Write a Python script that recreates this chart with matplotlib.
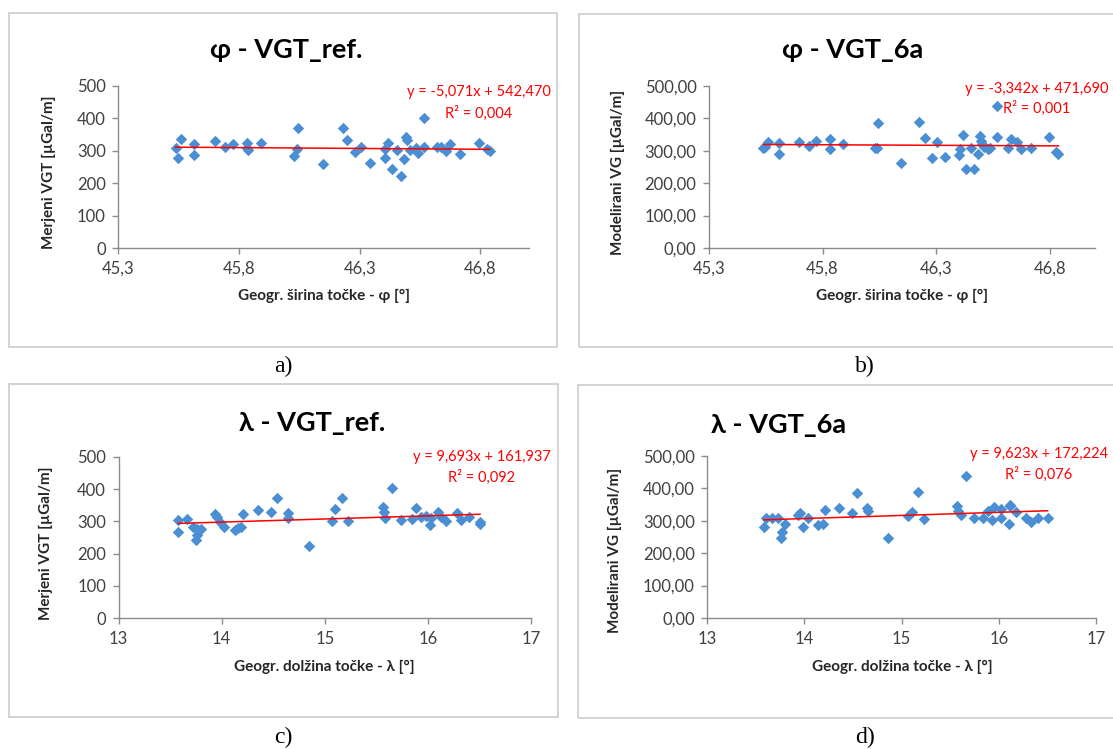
import matplotlib
matplotlib.use("Agg")
import matplotlib.pyplot as plt
import numpy as np
from matplotlib.patches import Rectangle
from matplotlib.ticker import FuncFormatter

plt.rcParams["font.family"] = ["Lato", "DejaVu Sans"]

# a) geogr. sirina - izmerjeni VGT
phi_ref = [45.537, 45.548, 45.558, 45.613, 45.613, 45.701, 45.741, 45.777, 45.835, 45.835,
           45.838, 45.893, 46.030, 46.040, 46.044, 46.147, 46.230, 46.248, 46.282, 46.306,
           46.344, 46.405, 46.405, 46.419, 46.434, 46.455, 46.471, 46.485, 46.493, 46.498,
           46.507, 46.533, 46.540, 46.567, 46.567, 46.620, 46.636, 46.658, 46.675, 46.716,
           46.795, 46.829, 46.840]
vgt_ref = [308, 279, 336, 320, 287, 331, 312, 322, 325, 310,
           302, 325, 284, 306, 372, 260, 372, 334, 298, 313,
           264, 277, 305, 325, 244, 303, 223, 275, 342, 334,
           303, 310, 293, 313, 402, 313, 312, 301, 320, 290,
           324, 306, 300]

# b) geogr. sirina - modelirani VG
phi_6a = [45.539, 45.546, 45.558, 45.608, 45.608, 45.696, 45.741, 45.771, 45.833, 45.833,
          45.892, 46.029, 46.039, 46.046, 46.146, 46.227, 46.252, 46.281, 46.303, 46.340,
          46.403, 46.405, 46.420, 46.432, 46.453, 46.468, 46.483, 46.494, 46.498, 46.504,
          46.513, 46.530, 46.538, 46.570, 46.570, 46.615, 46.628, 46.658, 46.674, 46.716,
          46.798, 46.829, 46.839]
vg_6a = [308, 313, 328, 323, 290, 326, 315, 330, 335, 305,
         320, 308, 308, 385, 263, 388, 339, 279, 328, 281,
         287, 306, 349, 244, 308, 244, 290, 346, 330, 320,
         313, 305, 308, 344, 438, 308, 335, 326, 306, 308,
         344, 295, 289]

# c) geogr. dolzina - izmerjeni VGT
lam_ref = [13.579, 13.579, 13.660, 13.725, 13.757, 13.748, 13.763, 13.799, 13.935, 13.951,
           13.983, 14.025, 14.129, 14.161, 14.187, 14.209, 14.349, 14.478, 14.533, 14.640,
           14.640, 14.847, 15.067, 15.099, 15.170, 15.222, 15.567, 15.577, 15.584, 15.649,
           15.740, 15.843, 15.882, 15.930, 15.979, 16.023, 16.030, 16.095, 16.127, 16.172,
           16.279, 16.321, 16.402, 16.505, 16.505]
vgt_lam = [304, 266, 306, 283, 276, 242, 258, 275, 322, 312,
           299, 283, 273, 278, 283, 323, 335, 330, 373, 325,
           309, 224, 302, 337, 373, 302, 343, 330, 311, 404,
           304, 306, 340, 313, 318, 289, 310, 328, 313, 302,
           325, 304, 312, 299, 292]

# d) geogr. dolzina - modelirani VG
lam_6a = [13.583, 13.600, 13.669, 13.730, 13.765, 13.758, 13.799, 13.936, 13.954, 13.982,
          14.039, 14.142, 14.194, 14.211, 14.355, 14.486, 14.537, 14.640, 14.650, 14.856,
          15.068, 15.103, 15.171, 15.233, 15.566, 15.583, 15.610, 15.659, 15.744, 15.840,
          15.885, 15.926, 15.950, 16.022, 16.022, 16.100, 16.110, 16.118, 16.180, 16.279,
          16.327, 16.405, 16.502]
vg_lam = [282, 310, 310, 310, 264, 246, 290, 318, 325, 280,
          310, 287, 290, 332, 339, 325, 387, 339, 331, 246,
          315, 328, 388, 306, 347, 331, 318, 438, 308, 308,
          331, 302, 343, 310, 335, 290, 347, 350, 328, 308,
          295, 310, 310]

# trendline coefficients (Excel)
slopes = [-5.071, -3.342, 9.693, 9.623]
intercepts = [542.470, 471.690, 161.937, 172.224]
r2 = ["0,004", "0,001", "0,092", "0,076"]

W, H = 1113, 749
fig = plt.figure(figsize=(W / 100, H / 100), dpi=100)
fig.patch.set_facecolor("white")

blue = "#4A8FD3"
axis_gray = "#8C8C8C"
text_gray = "#404040"


def fx(x):
    return x / W


def fy(y):
    return 1 - y / H


def comma(dec):
    return FuncFormatter(lambda v, p: f"{v:.{dec}f}".replace(".", ","))


def panel(box, axpx, xs, ys, xlim, xticks, xdec, ydec, title, tpos, ylab, ylpos,
          xlab, xlpos, k, eqpos, letter, lpos):
    # okvir grafa
    x0, y0, x1, y1 = box
    fig.patches.append(Rectangle((fx(x0), fy(y1)), fx(x1 - x0), (y1 - y0) / H,
                                 transform=fig.transFigure, fill=False,
                                 edgecolor="#D0D0D0", lw=1.3))
    l, t, r, b = axpx
    ax = fig.add_axes([fx(l), fy(b), fx(r - l), (b - t) / H])
    ax.patch.set_alpha(0)
    ax.scatter(xs, ys, marker="D", s=34, color=blue, linewidths=0, zorder=3, clip_on=False)
    xx = np.array([min(xs), max(xs)])
    ax.plot(xx, slopes[k] * xx + intercepts[k], color="#FF0000", lw=1.1, zorder=4)
    ax.set_xlim(*xlim)
    ax.set_ylim(0, 500)
    ax.set_xticks(xticks)
    ax.set_yticks(range(0, 501, 100))
    ax.xaxis.set_major_formatter(comma(xdec))
    ax.yaxis.set_major_formatter(comma(ydec))
    for s in ["top", "right"]:
        ax.spines[s].set_visible(False)
    for s in ["left", "bottom"]:
        ax.spines[s].set_color(axis_gray)
        ax.spines[s].set_linewidth(1.0)
    ax.tick_params(direction="out", length=4, width=1, color=axis_gray,
                   labelcolor=text_gray, labelsize=12, pad=5)

    fig.text(fx(tpos[0]), fy(tpos[1]), title, ha="center", va="center",
             fontsize=19.5, fontweight="bold")
    fig.text(fx(ylpos[0]), fy(ylpos[1]), ylab, ha="center", va="center", rotation=90,
             fontsize=11, fontweight="bold", color="#262626")
    fig.text(fx(xlpos[0]), fy(xlpos[1]), xlab, ha="center", va="center",
             fontsize=11, fontweight="bold", color="#262626")
    sign = "-" if slopes[k] < 0 else ""
    eq = f"y = {sign}{abs(slopes[k]):.3f}x + {intercepts[k]:.3f}".replace(".", ",")
    fig.text(fx(eqpos[0]), fy(eqpos[1]), eq, ha="center", va="center",
             fontsize=10.5, color="#FF0000")
    fig.text(fx(eqpos[0]), fy(eqpos[2]), "R² = " + r2[k], ha="center", va="center",
             fontsize=10.5, color="#FF0000")
    fig.text(fx(lpos[0]), fy(lpos[1]), letter, ha="center", va="center",
             fontsize=17, family="Liberation Serif")


phi_ticks = [45.3, 45.8, 46.3, 46.8]
lam_ticks = [13, 14, 15, 16, 17]

panel((9, 13, 557, 347), (118.3, 86, 528.6, 248.3), phi_ref, vgt_ref, (45.3, 47.0),
      phi_ticks, 1, 0, "φ - VGT_ref.", (286, 50), "Merjeni VGT [µGal/m]", (49, 172),
      "Geogr. širina točke - φ [°]", (324, 296), 0, (479, 92, 113), "a)", (283, 366))
panel((579, 14, 1125, 347), (709, 86, 1095, 248), phi_6a, vg_6a, (45.3, 47.0),
      phi_ticks, 1, 2, "φ - VGT_6a", (853, 50), "Modelirani VG [µGal/m]", (618, 172),
      "Geogr. širina točke - φ [°]", (902, 296), 1, (1037, 89, 108), "b)", (865, 366))
panel((9, 384, 558, 717), (118.6, 456.7, 531, 618.3), lam_ref, vgt_lam, (13, 17),
      lam_ticks, 0, 0, "λ - VGT_ref.", (312, 423), "Merjeni VGT [µGal/m]", (46, 543),
      "Geogr. dolžina točke - λ [°]", (324, 667), 2, (482, 457, 477), "c)", (283, 737))
panel((578, 385, 1125, 718), (707.3, 456, 1096, 618), lam_6a, vg_lam, (13, 17),
      lam_ticks, 0, 2, "λ - VGT_6a", (779, 425), "Modelirani VG [µGal/m]", (615, 550),
      "Geogr. dolžina točke - λ [°]", (902, 667), 3, (1039, 454, 474), "d)", (865, 737))

fig.savefig("out.png", dpi=100)
